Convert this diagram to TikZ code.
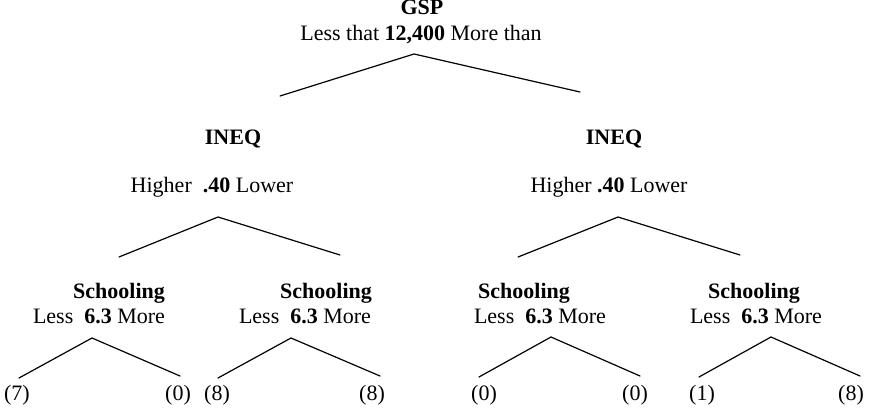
\documentclass[tikz,border=0pt]{standalone}
\usepackage{fontspec}
\setmainfont{Liberation Serif}
\begin{document}
\begin{tikzpicture}[x=1pt,y=-1pt,
  lbl/.style={inner sep=0pt,anchor=base,font=\fontsize{22}{25}\selectfont},
  hd/.style={lbl,font=\fontsize{22}{25}\selectfont\bfseries},
  br/.style={line width=1.2pt,line cap=round}]
\useasboundingbox (0,0) rectangle (870,409);
% root
\node[hd] (gsp) at (422,15) {GSP};
\node[lbl] (gspt) at (421,41) {Less that \textbf{12,400} More than};
\coordinate (a0) at (414,54);
\coordinate (l0) at (280,96);
\coordinate (r0) at (580,92);
\draw[br] (l0) -- (a0) -- (r0);
% INEQ left
\node[hd] (ineqL) at (233,145) {INEQ};
\node[lbl] (ineqLt) at (212,192) {Higher\ \ \textbf{.40} Lower};
\coordinate (a1) at (218,217);
\coordinate (l1) at (119,257);
\coordinate (r1) at (340,255);
\draw[br] (l1) -- (a1) -- (r1);
% INEQ right
\node[hd] (ineqR) at (614,145) {INEQ};
\node[lbl] (ineqRt) at (609,192) {Higher \textbf{.40} Lower};
\coordinate (a2) at (618,217);
\coordinate (l2) at (518,257);
\coordinate (r2) at (740,255);
\draw[br] (l2) -- (a2) -- (r2);
% Schooling 1
\node[hd] (s1) at (119,298) {Schooling};
\node[lbl] (s1t) at (99,323) {Less\ \ \textbf{6.3} More};
\coordinate (a3) at (92,338);
\coordinate (l3) at (19,378);
\coordinate (r3) at (180,376);
\draw[br] (l3) -- (a3) -- (r3);
\node[lbl] (c1) at (17,400) {(7)};
\node[lbl] (c2) at (178,400) {(0)};
% Schooling 2
\node[hd] (s2) at (326,298) {Schooling};
\node[lbl] (s2t) at (305,323) {Less\ \ \textbf{6.3} More};
\coordinate (a4) at (291,338);
\coordinate (l4) at (218,378);
\coordinate (r4) at (380,376);
\draw[br] (l4) -- (a4) -- (r4);
\node[lbl] (c3) at (217,400) {(8)};
\node[lbl] (c4) at (372,400) {(8)};
% Schooling 3
\node[hd] (s3) at (524,298) {Schooling};
\node[lbl] (s3t) at (540,323) {Less\ \ \textbf{6.3} More};
\coordinate (a5) at (551,337);
\coordinate (l5) at (479,377);
\coordinate (r5) at (640,376);
\draw[br] (l5) -- (a5) -- (r5);
\node[lbl] (c5) at (484,400) {(0)};
\node[lbl] (c6) at (635,400) {(0)};
% Schooling 4
\node[hd] (s4) at (754,298) {Schooling};
\node[lbl] (s4t) at (756,323) {Less\ \ \textbf{6.3} More};
\coordinate (a6) at (771,337);
\coordinate (l6) at (699,377);
\coordinate (r6) at (860,376);
\draw[br] (l6) -- (a6) -- (r6);
\node[lbl] (c7) at (702,400) {(1)};
\node[lbl] (c8) at (851,400) {(8)};
\end{tikzpicture}
\end{document}
